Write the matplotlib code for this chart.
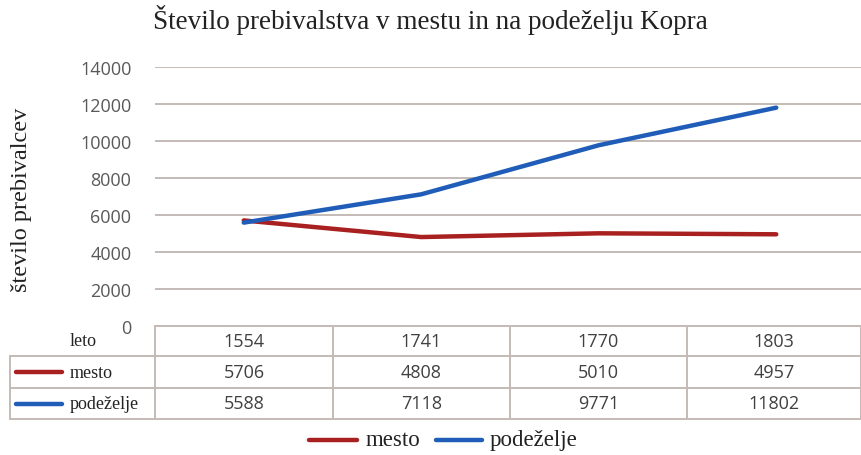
import matplotlib
matplotlib.use("Agg")
import matplotlib.pyplot as plt
from matplotlib.lines import Line2D

years = ["1554", "1741", "1770", "1803"]
mesto = [5706, 4808, 5010, 4957]
podezelje = [5588, 7118, 9771, 11802]
series_names = ["mesto", "podeželje"]
row_header = "leto"
title = "Število prebivalstva v mestu in na podeželju Kopra"
ylabel = "število prebivalcev"
yticks = [0, 2000, 4000, 6000, 8000, 10000, 12000, 14000]

RED = "#a8201f"
BLUE = "#1f5db8"
GRID = "#c4bab6"
TICK = "#595959"
SERIF = "Liberation Serif"
SANS = "Open Sans"

W, H = 861, 456
fig = plt.figure(figsize=(W / 100, H / 100), dpi=100)

def fx(px):
    return px / W

def fy(py):
    return 1 - py / H

# plot area: y=0 at row 327 px, y=14000 at row 68 px
left, right = 155, 865
top, bottom = 68, 327
ax = fig.add_axes([fx(left), fy(bottom), (right - left) / W, (bottom - top) / H])
ax.set_xlim(-0.5, len(years) - 0.5)
ax.set_ylim(0, 14000)
for s in ax.spines.values():
    s.set_visible(False)
ax.set_yticks(yticks)
ax.set_yticklabels([str(v) for v in yticks], fontfamily=SANS, fontsize=13, color=TICK)
ax.tick_params(axis="y", length=0, pad=17)
ax.set_xticks([])
ax.grid(axis="y", color=GRID, linewidth=1.4)
ax.set_axisbelow(True)

x = list(range(len(years)))
ax.plot(x, mesto, color=RED, linewidth=3.2, solid_capstyle="round")
ax.plot(x, podezelje, color=BLUE, linewidth=3.2, solid_capstyle="round")

fig.text(fx(430), fy(20), title, ha="center", va="center", fontfamily=SERIF,
         fontsize=19.5, color="#222222")
fig.text(fx(22), fy(200), ylabel, ha="center", va="center", rotation=90,
         fontfamily=SERIF, fontsize=17.5, color="#222222")

# data table below the plot
row_y = [327, 357, 389, 420]
col_x = [155, 333, 510, 687, 861]
tbl_left = 10
lc = GRID
lw = 1.4
for cx in col_x:
    fig.add_artist(Line2D([fx(cx), fx(cx)], [fy(row_y[0]), fy(row_y[-1])],
                          color=lc, linewidth=lw))
fig.add_artist(Line2D([fx(tbl_left), fx(tbl_left)], [fy(row_y[1]), fy(row_y[-1])],
                      color=lc, linewidth=lw))
fig.add_artist(Line2D([fx(col_x[0]), fx(W)], [fy(row_y[0]), fy(row_y[0])],
                      color=lc, linewidth=lw))
for ry in row_y[1:]:
    fig.add_artist(Line2D([fx(tbl_left), fx(W)], [fy(ry), fy(ry)],
                          color=lc, linewidth=lw))

rows = [years, [str(v) for v in mesto], [str(v) for v in podezelje]]
for r, vals in enumerate(rows):
    yc = (row_y[r] + row_y[r + 1]) / 2
    for c, v in enumerate(vals):
        xc = (col_x[c] + col_x[c + 1]) / 2
        fig.text(fx(xc), fy(yc), v, ha="center", va="center",
                 fontfamily=SANS, fontsize=13, color="#404040")

fig.text(fx(70), fy((row_y[0] + row_y[1]) / 2), row_header, ha="left", va="center",
         fontfamily=SERIF, fontsize=13, color="#222222")
for r, (name, col) in enumerate(zip(series_names, [RED, BLUE]), start=1):
    yc = (row_y[r] + row_y[r + 1]) / 2
    fig.add_artist(Line2D([fx(16), fx(62)], [fy(yc), fy(yc)], color=col,
                          linewidth=3.2, solid_capstyle="round"))
    fig.text(fx(70), fy(yc), name, ha="left", va="center",
             fontfamily=SERIF, fontsize=13, color="#222222")

# legend
leg_y = fy(441)
fig.add_artist(Line2D([fx(309), fx(357)], [leg_y, leg_y], color=RED,
                      linewidth=3.2, solid_capstyle="round"))
fig.text(fx(366), leg_y, series_names[0], ha="left", va="center",
         fontfamily=SERIF, fontsize=16.5, color="#222222")
fig.add_artist(Line2D([fx(436), fx(482)], [leg_y, leg_y], color=BLUE,
                      linewidth=3.2, solid_capstyle="round"))
fig.text(fx(490), leg_y, series_names[1], ha="left", va="center",
         fontfamily=SERIF, fontsize=16.5, color="#222222")

fig.savefig("out.png", dpi=100)
